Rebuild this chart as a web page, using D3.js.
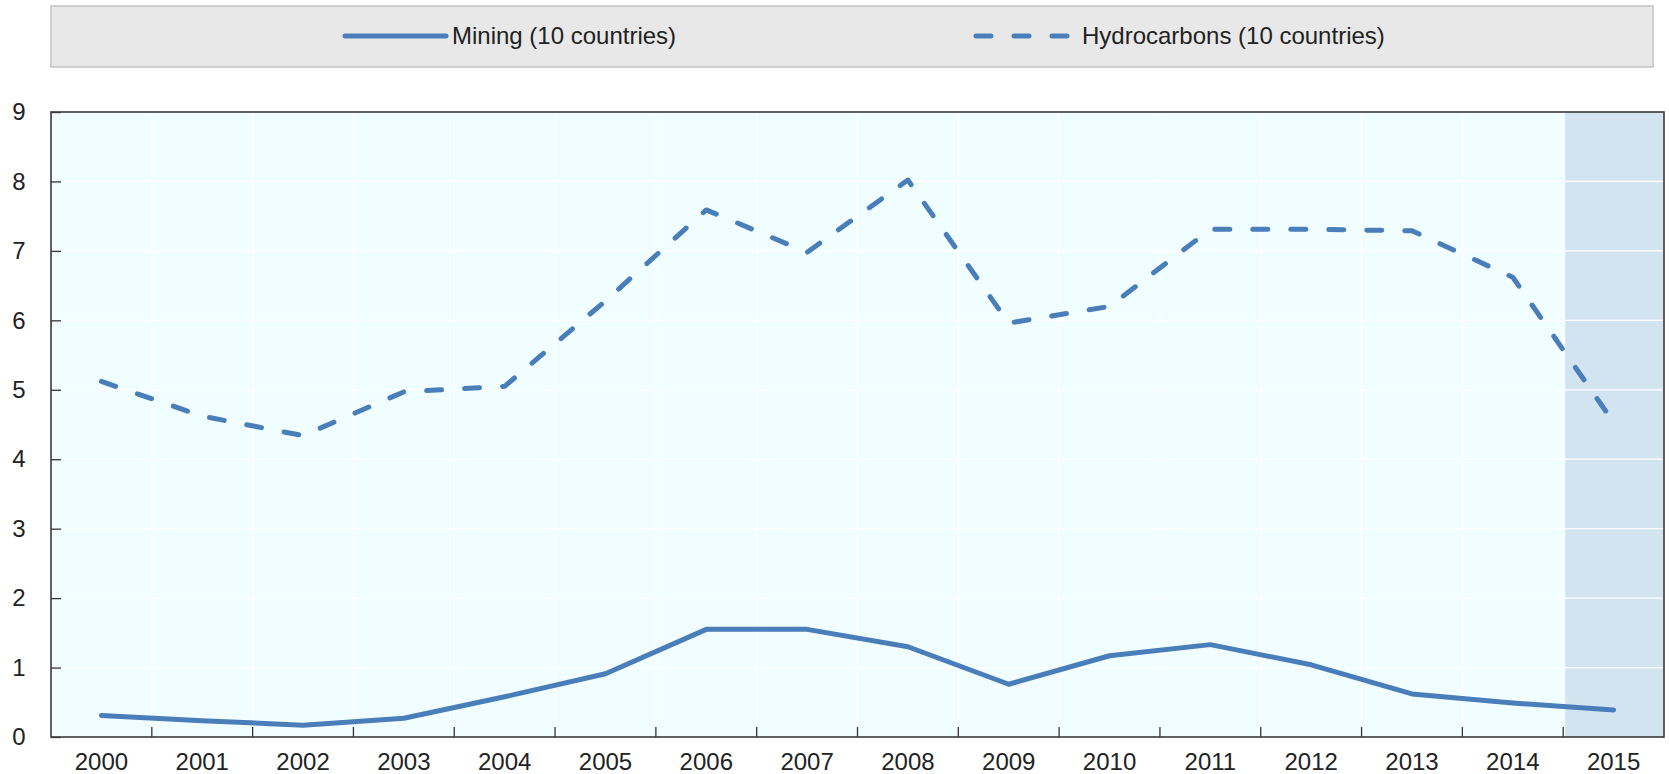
<!DOCTYPE html>
<html>
<head>
<meta charset="utf-8">
<script src="https://cdn.jsdelivr.net/npm/d3@7"></script>
<style>
  html, body { margin: 0; padding: 0; background: #ffffff; }
  svg { display: block; }
  text { font-family: "Liberation Sans", Arial, sans-serif; fill: #222; }
</style>
</head>
<body>
<svg id="chart" width="1669" height="774"></svg>
<script>
// ---- Data ----
const years = ["2000","2001","2002","2003","2004","2005","2006","2007","2008","2009","2010","2011","2012","2013","2014","2015"];
const mining = [0.31,0.235,0.17,0.27,0.58,0.91,1.55,1.55,1.30,0.76,1.17,1.33,1.04,0.62,0.49,0.39];
const hydrocarbons = [5.12,4.62,4.34,4.97,5.05,6.28,7.59,6.98,8.02,5.96,6.20,7.31,7.31,7.29,6.62,4.53];
const yTicks = [0,1,2,3,4,5,6,7,8,9];
const seriesNames = ["Mining (10 countries)", "Hydrocarbons (10 countries)"];
const highlightYears = ["2015"];

// ---- Layout ----
const W = 1669, H = 774;
const plot = { left: 51, right: 1664, top: 112, bottom: 737 };
const blue = "#4a7ebb";

const svg = d3.select("#chart");

const x = d3.scaleBand().domain(years).range([plot.left, plot.right]).paddingInner(0).paddingOuter(0);
const y = d3.scaleLinear().domain([0, 9]).range([plot.bottom, plot.top]);

// Plot background
svg.append("rect")
  .attr("x", plot.left).attr("y", plot.top)
  .attr("width", plot.right - plot.left).attr("height", plot.bottom - plot.top)
  .attr("fill", "#f1feff");

// Highlight band
svg.selectAll("rect.hl").data(highlightYears).enter().append("rect")
  .attr("class", "hl")
  .attr("x", d => x(d) + 2).attr("y", plot.top)
  .attr("width", x.bandwidth() - 2).attr("height", plot.bottom - plot.top)
  .attr("fill", "#d3e4f1");

// Gridlines (white)
const grid = svg.append("g");
grid.selectAll("line.h").data(yTicks.slice(1, -1)).enter().append("line")
  .attr("x1", plot.left).attr("x2", plot.right)
  .attr("y1", d => y(d)).attr("y2", d => y(d))
  .attr("stroke", "#ffffff").attr("stroke-width", 1.2);
grid.selectAll("line.v").data(years.slice(1)).enter().append("line")
  .attr("x1", d => x(d)).attr("x2", d => x(d))
  .attr("y1", plot.top).attr("y2", plot.bottom)
  .attr("stroke", "#ffffff").attr("stroke-width", 1.2);

// Axes
const yAxis = d3.axisLeft(y).tickValues(yTicks).tickSize(-10).tickPadding(22).tickFormat(d3.format("d"));
const gy = svg.append("g").attr("transform", `translate(${plot.left},0)`).call(yAxis);
gy.select(".domain").remove();
gy.selectAll(".tick line").attr("stroke", "#333").attr("stroke-width", 1.3);
gy.selectAll(".tick text").attr("font-size", 24).attr("fill", "#222")
  .attr("text-anchor", "middle").attr("x", -32);

// X axis ticks at band boundaries
const xTickG = svg.append("g");
xTickG.selectAll("line").data(years.slice(1)).enter().append("line")
  .attr("x1", d => x(d)).attr("x2", d => x(d))
  .attr("y1", plot.bottom).attr("y2", plot.bottom - 10)
  .attr("stroke", "#333").attr("stroke-width", 1.3);
const xAxis = d3.axisBottom(x).tickSize(0).tickPadding(16);
const gx = svg.append("g").attr("transform", `translate(0,${plot.bottom})`).call(xAxis);
gx.select(".domain").remove();
gx.selectAll(".tick text").attr("font-size", 24).attr("fill", "#222");

// Border
svg.append("rect")
  .attr("x", plot.left).attr("y", plot.top)
  .attr("width", plot.right - plot.left).attr("height", plot.bottom - plot.top)
  .attr("fill", "none").attr("stroke", "#3a3a3a").attr("stroke-width", 1.6);

// Lines
const line = d3.line().x((d, i) => x(years[i]) + x.bandwidth() / 2).y(d => y(d));
svg.append("path").datum(hydrocarbons)
  .attr("d", line).attr("fill", "none").attr("stroke", blue)
  .attr("stroke-width", 5).attr("stroke-linecap", "round").attr("stroke-linejoin", "round")
  .attr("stroke-dasharray", "15,23");
svg.append("path").datum(mining)
  .attr("d", line).attr("fill", "none").attr("stroke", blue)
  .attr("stroke-width", 5).attr("stroke-linecap", "round").attr("stroke-linejoin", "round");

// Legend
svg.append("rect").attr("x", 51).attr("y", 6).attr("width", 1602).attr("height", 61)
  .attr("fill", "#e8e8e8").attr("stroke", "#c4c4c4").attr("stroke-width", 1.5);
const legendItems = [
  { name: seriesNames[0], x1: 345, x2: 446, dash: null },
  { name: seriesNames[1], x1: 976, x2: 1076, dash: "15,23" }
];
const lg = svg.append("g").selectAll("g").data(legendItems).enter().append("g");
lg.append("line")
  .attr("x1", d => d.x1).attr("x2", d => d.x2).attr("y1", 36).attr("y2", 36)
  .attr("stroke", blue).attr("stroke-width", 5).attr("stroke-linecap", "round")
  .attr("stroke-dasharray", d => d.dash);
lg.append("text")
  .attr("x", d => d.x2 + 6).attr("y", 36).attr("dy", "0.35em")
  .attr("font-size", 24).attr("fill", "#222")
  .text(d => d.name);
</script>
</body>
</html>
